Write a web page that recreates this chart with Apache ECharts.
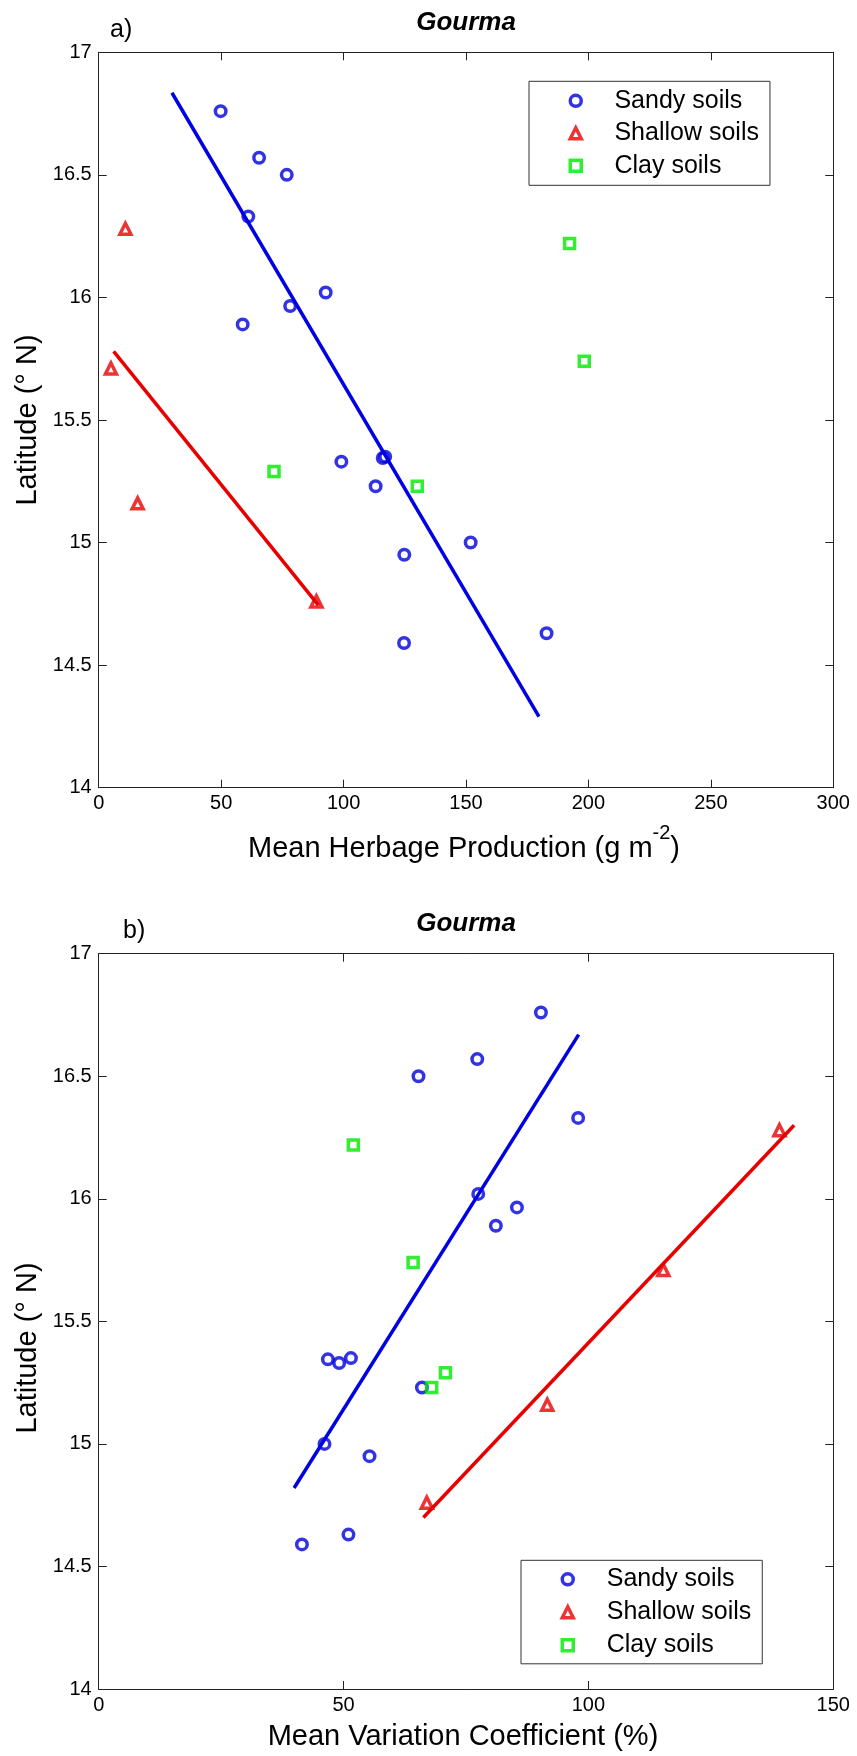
<!DOCTYPE html>
<html><head><meta charset="utf-8">
<script src="https://cdn.jsdelivr.net/npm/echarts/dist/echarts.min.js"></script>
<style>html,body{margin:0;padding:0;background:#fff}#c{width:857px;height:1756px}</style>
</head><body><div id="c"></div>
<script>
// ---- data ----
const seriesNames = ['Sandy soils', 'Shallow soils', 'Clay soils'];
const latSandy  = [16.76, 16.57, 16.50, 16.33, 16.02, 15.965, 15.89, 15.345, 15.33, 15.35, 15.23, 15.00, 14.95, 14.63, 14.59];
const herbSandy = [49.8, 65.5, 76.8, 61.1, 92.7, 78.2, 58.8, 116.0, 99.1, 117.0, 113.1, 151.9, 124.8, 182.9, 124.7];
const cvSandy   = [90.3, 77.3, 65.3, 97.9, 77.5, 85.4, 81.1, 46.8, 49.1, 51.5, 66.0, 46.1, 55.3, 51.0, 41.5];
const latShallow  = [16.28, 15.71, 15.16, 14.76];
const herbShallow = [10.9, 5.0, 15.9, 88.9];
const cvShallow   = [139.0, 115.3, 91.6, 67.0];
const latClay  = [16.22, 15.74, 15.29, 15.23];
const herbClay = [192.3, 198.3, 71.6, 130.1];
const cvClay   = [52.0, 64.2, 70.8, 68.0];
// regression line end points
const fitHerbSandyX = [29.9, 179.8];
const fitHerbSandyY = [16.835, 14.29];
const fitHerbShallowX = [6.1, 89.7];
const fitHerbShallowY = [15.78, 14.745];
const fitCvSandyX = [39.9, 98.0];
const fitCvSandyY = [14.82, 16.67];
const fitCvShallowX = [66.3, 142.0];
const fitCvShallowY = [14.70, 16.30];
// axes
const latMin = 14, latMax = 17, latStep = 0.5;
const herbMin = 0, herbMax = 300, herbStep = 50;
const cvMin = 0, cvMax = 150, cvStep = 50;

// ---- style ----
const FF = '"Liberation Sans", Arial, sans-serif';
const BLUE = '#0000e0', RED = '#e80000', GREEN = '#00e800', AX = '#222';

const zip = (xs, ys) => xs.map((x, i) => [x, ys[i]]);

function xAx(gi, min, max, step, pos, showLab) {
  return {type: 'value', gridIndex: gi, min: min, max: max, interval: step, position: pos,
    axisLine: {show: true, onZero: false, lineStyle: {color: AX, width: 1}},
    axisTick: {show: true, inside: true, length: 8, lineStyle: {color: AX}},
    axisLabel: {show: showLab, margin: 6, fontSize: 20, color: '#000', fontFamily: FF},
    splitLine: {show: false}};
}
function yAx(gi, pos, showLab) {
  return {type: 'value', gridIndex: gi, min: latMin, max: latMax, interval: latStep, position: pos,
    axisLine: {show: true, onZero: false, lineStyle: {color: AX, width: 1}},
    axisTick: {show: true, inside: true, length: 8, lineStyle: {color: AX}},
    axisLabel: {show: showLab, margin: 7, fontSize: 20, color: '#000', fontFamily: FF},
    splitLine: {show: false}};
}
const styles = [
  {symbol: 'circle', size: 10.5, color: BLUE},
  {symbol: 'triangle', size: 11, color: RED},
  {symbol: 'rect', size: 10, color: GREEN}
];
function scatter(i, xi, yi, xs, ys) {
  const s = styles[i];
  return {type: 'scatter', name: seriesNames[i], xAxisIndex: xi, yAxisIndex: yi, symbol: s.symbol,
    symbolSize: s.size, silent: true, z: 3,
    itemStyle: {color: 'rgba(0,0,0,0)', borderColor: s.color, borderWidth: 3.5},
    data: zip(xs, ys)};
}
function fit(color, xi, yi, xs, ys) {
  return {type: 'line', xAxisIndex: xi, yAxisIndex: yi, symbol: 'none', silent: true, z: 4,
    lineStyle: {color: color, width: 3.5}, data: zip(xs, ys)};
}
const legendData = styles.map((s, i) => ({name: seriesNames[i], icon: s.symbol,
  itemStyle: {color: 'rgba(0,0,0,0)', borderColor: s.color, borderWidth: 3.5}}));
function legend(left, top, gap, pad, textPad) {
  return {left: left, top: top, orient: 'vertical', itemWidth: 11, itemHeight: 11, itemGap: gap,
    padding: pad, borderColor: '#333', borderWidth: 1, backgroundColor: '#fff', selectedMode: false,
    symbolKeepAspect: true,
    textStyle: {fontSize: 25, lineHeight: 25, fontFamily: FF, color: '#000', padding: [0, 0, 0, textPad]},
    data: legendData};
}
function txt(x, y, text, size, extra) {
  return {type: 'text', x: x, y: y, silent: true,
    style: Object.assign({text: text, fontSize: size, fontFamily: FF, fill: '#000',
      align: 'center', verticalAlign: 'middle'}, extra || {})};
}

const chart = echarts.init(document.getElementById('c'), null, {renderer: 'canvas'});
const yLabA = txt(28, 420, 'Latitude (° N)', 29); yLabA.rotation = Math.PI / 2;
const yLabB = txt(28, 1348, 'Latitude (° N)', 29); yLabB.rotation = Math.PI / 2;
chart.setOption({
  animation: false,
  backgroundColor: '#fff',
  grid: [
    {left: 98.7, top: 52.3, width: 734.6, height: 735.4},
    {left: 98.7, top: 953.7, width: 734.6, height: 735.3}
  ],
  xAxis: [
    xAx(0, herbMin, herbMax, herbStep, 'bottom', true),
    xAx(0, herbMin, herbMax, herbStep, 'top', false),
    xAx(1, cvMin, cvMax, cvStep, 'bottom', true),
    xAx(1, cvMin, cvMax, cvStep, 'top', false)
  ],
  yAxis: [
    yAx(0, 'left', true), yAx(0, 'right', false),
    yAx(1, 'left', true), yAx(1, 'right', false)
  ],
  legend: [
    legend(529, 81.3, 7.5, [7, 11, 7, 39.5], 28.2),
    legend(521, 1560.3, 8, [6.5, 11, 6, 39.5], 28.5)
  ],
  series: [
    scatter(0, 0, 0, herbSandy, latSandy),
    scatter(1, 0, 0, herbShallow, latShallow),
    scatter(2, 0, 0, herbClay, latClay),
    fit(BLUE, 0, 0, fitHerbSandyX, fitHerbSandyY),
    fit(RED, 0, 0, fitHerbShallowX, fitHerbShallowY),
    scatter(0, 2, 2, cvSandy, latSandy),
    scatter(1, 2, 2, cvShallow, latShallow),
    scatter(2, 2, 2, cvClay, latClay),
    fit(BLUE, 2, 2, fitCvSandyX, fitCvSandyY),
    fit(RED, 2, 2, fitCvShallowX, fitCvShallowY)
  ],
  graphic: [
    txt(110, 30, 'a)', 25, {align: 'left'}),
    txt(466, 23, 'Gourma', 26, {fontWeight: 'bold', fontStyle: 'italic'}),
    yLabA,
    txt(464, 849, '{m|Mean Herbage Production (g m}{s|-2}{m|)}', 29,
      {rich: {
        m: {fontSize: 29, fontFamily: FF, lineHeight: 52, fill: '#000'},
        s: {fontSize: 20, fontFamily: FF, lineHeight: 16, verticalAlign: 'top', fill: '#000'}
      }}),
    txt(123, 931, 'b)', 25, {align: 'left'}),
    txt(466, 924, 'Gourma', 26, {fontWeight: 'bold', fontStyle: 'italic'}),
    yLabB,
    txt(463, 1737, 'Mean Variation Coefficient (%)', 29)
  ]
});
</script></body></html>
